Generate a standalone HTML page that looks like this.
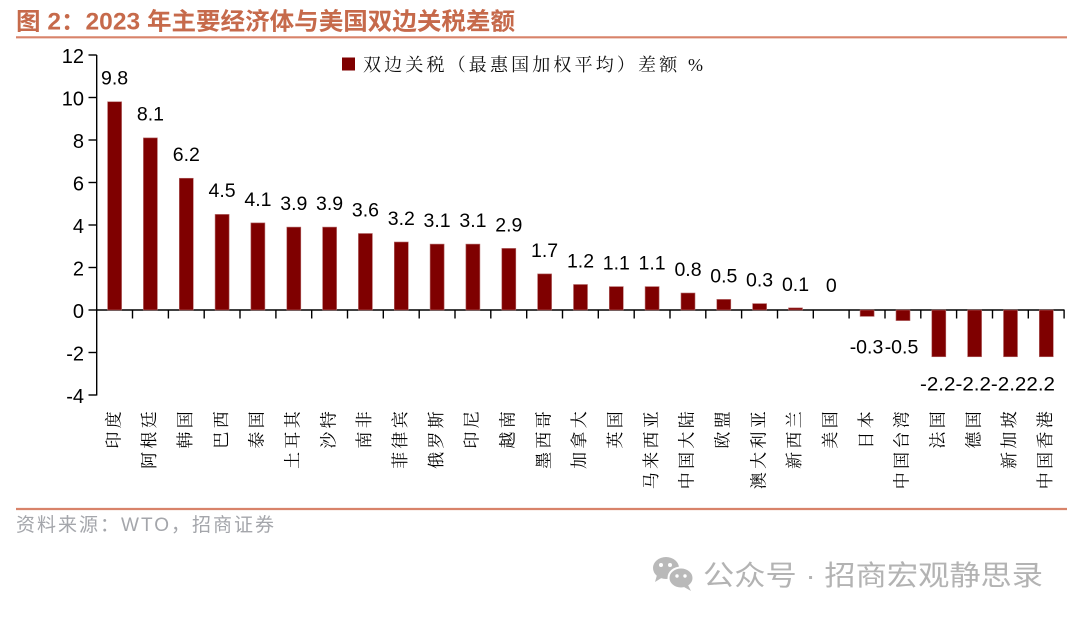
<!DOCTYPE html>
<html><head><meta charset="utf-8"><style>
html,body{margin:0;padding:0;background:#fff;}
svg{display:block;}
</style></head><body>
<svg width="1080" height="618" viewBox="0 0 1080 618" xmlns="http://www.w3.org/2000/svg">
<rect width="1080" height="618" fill="#fff"/>
<!-- title -->
<text x="16" y="29.5" font-family="Liberation Sans, Noto Sans CJK SC, sans-serif" font-weight="bold" font-size="24" fill="#c66a4b" textLength="499" lengthAdjust="spacingAndGlyphs">图 2：2023 年主要经济体与美国双边关税差额</text>
<line x1="16" y1="37.3" x2="1067" y2="37.3" stroke="#d8836a" stroke-width="2.2"/>

<!-- legend -->
<rect x="342" y="57.5" width="13" height="13" fill="#7f0000"/>
<text x="363" y="71" font-family="Liberation Serif, Noto Serif CJK SC, serif" font-size="18" fill="#111" textLength="340" lengthAdjust="spacing">双边关税（最惠国加权平均）差额 %</text>

<!-- y axis -->
<g stroke="#000" stroke-width="1.4" fill="none">
<line x1="96.7" y1="55" x2="96.7" y2="395.5"/>
<line x1="96.7" y1="310" x2="1064.5" y2="310"/>
<line x1="88.5" y1="55" x2="96.7" y2="55"/>
<line x1="88.5" y1="97.5" x2="96.7" y2="97.5"/>
<line x1="88.5" y1="140" x2="96.7" y2="140"/>
<line x1="88.5" y1="182.5" x2="96.7" y2="182.5"/>
<line x1="88.5" y1="225" x2="96.7" y2="225"/>
<line x1="88.5" y1="267.5" x2="96.7" y2="267.5"/>
<line x1="88.5" y1="310" x2="96.7" y2="310"/>
<line x1="88.5" y1="352.5" x2="96.7" y2="352.5"/>
<line x1="88.5" y1="395" x2="96.7" y2="395"/>
<!-- x ticks -->
<line x1="132.5" y1="310" x2="132.5" y2="318.5"/>
<line x1="168.4" y1="310" x2="168.4" y2="318.5"/>
<line x1="204.2" y1="310" x2="204.2" y2="318.5"/>
<line x1="240.0" y1="310" x2="240.0" y2="318.5"/>
<line x1="275.9" y1="310" x2="275.9" y2="318.5"/>
<line x1="311.7" y1="310" x2="311.7" y2="318.5"/>
<line x1="347.5" y1="310" x2="347.5" y2="318.5"/>
<line x1="383.3" y1="310" x2="383.3" y2="318.5"/>
<line x1="419.2" y1="310" x2="419.2" y2="318.5"/>
<line x1="455.0" y1="310" x2="455.0" y2="318.5"/>
<line x1="490.8" y1="310" x2="490.8" y2="318.5"/>
<line x1="526.7" y1="310" x2="526.7" y2="318.5"/>
<line x1="562.5" y1="310" x2="562.5" y2="318.5"/>
<line x1="598.3" y1="310" x2="598.3" y2="318.5"/>
<line x1="634.2" y1="310" x2="634.2" y2="318.5"/>
<line x1="670.0" y1="310" x2="670.0" y2="318.5"/>
<line x1="705.8" y1="310" x2="705.8" y2="318.5"/>
<line x1="741.6" y1="310" x2="741.6" y2="318.5"/>
<line x1="777.5" y1="310" x2="777.5" y2="318.5"/>
<line x1="813.3" y1="310" x2="813.3" y2="318.5"/>
<line x1="849.1" y1="310" x2="849.1" y2="318.5"/>
<line x1="885.0" y1="310" x2="885.0" y2="318.5"/>
<line x1="920.8" y1="310" x2="920.8" y2="318.5"/>
<line x1="956.6" y1="310" x2="956.6" y2="318.5"/>
<line x1="992.5" y1="310" x2="992.5" y2="318.5"/>
<line x1="1028.3" y1="310" x2="1028.3" y2="318.5"/>
<line x1="1064.1" y1="310" x2="1064.1" y2="318.5"/>
</g>
<g font-family="Liberation Sans, Arial, sans-serif" font-size="20" fill="#000" text-anchor="end">
<text x="84" y="63">12</text>
<text x="84" y="105.5">10</text>
<text x="84" y="148">8</text>
<text x="84" y="190.5">6</text>
<text x="84" y="233">4</text>
<text x="84" y="275.5">2</text>
<text x="84" y="318">0</text>
<text x="84" y="360.5">-2</text>
<text x="84" y="403">-4</text>
</g>

<!-- bars -->
<g fill="#7f0000" stroke="#b56a6a" stroke-width="0.6">
<rect x="107.6" y="101.75" width="14" height="208.25"/>
<rect x="143.4" y="137.9" width="14" height="172.1"/>
<rect x="179.3" y="178.25" width="14" height="131.75"/>
<rect x="215.1" y="214.4" width="14" height="95.6"/>
<rect x="250.9" y="222.9" width="14" height="87.1"/>
<rect x="286.8" y="227.1" width="14" height="82.9"/>
<rect x="322.6" y="227.1" width="14" height="82.9"/>
<rect x="358.4" y="233.5" width="14" height="76.5"/>
<rect x="394.3" y="242" width="14" height="68"/>
<rect x="430.1" y="244.1" width="14" height="65.9"/>
<rect x="465.9" y="244.1" width="14" height="65.9"/>
<rect x="501.8" y="248.4" width="14" height="61.6"/>
<rect x="537.6" y="273.9" width="14" height="36.1"/>
<rect x="573.5" y="284.5" width="14" height="25.5"/>
<rect x="609.3" y="286.6" width="14" height="23.4"/>
<rect x="645.1" y="286.6" width="14" height="23.4"/>
<rect x="681.0" y="293" width="14" height="17"/>
<rect x="716.8" y="299.4" width="14" height="10.6"/>
<rect x="752.6" y="303.6" width="14" height="6.4"/>
<rect x="788.5" y="307.9" width="14" height="2.1"/>
<rect x="860.1" y="310" width="14" height="6.4"/>
<rect x="896.0" y="310" width="14" height="10.6"/>
<rect x="931.8" y="310" width="14" height="46.75"/>
<rect x="967.6" y="310" width="14" height="46.75"/>
<rect x="1003.5" y="310" width="14" height="46.75"/>
<rect x="1039.3" y="310" width="14" height="46.75"/>
</g>

<!-- data labels -->
<g font-family="Liberation Sans, Arial, sans-serif" font-size="19.5" fill="#000" text-anchor="middle">
<text x="114.6" y="84.5">9.8</text>
<text x="150.4" y="120.5">8.1</text>
<text x="186.3" y="161">6.2</text>
<text x="222.1" y="197">4.5</text>
<text x="257.9" y="206">4.1</text>
<text x="293.8" y="210">3.9</text>
<text x="329.6" y="210">3.9</text>
<text x="365.4" y="216.5">3.6</text>
<text x="401.3" y="225">3.2</text>
<text x="437.1" y="227">3.1</text>
<text x="472.9" y="227">3.1</text>
<text x="508.8" y="231.5">2.9</text>
<text x="544.6" y="257">1.7</text>
<text x="580.5" y="267.5">1.2</text>
<text x="616.3" y="269.5">1.1</text>
<text x="652.1" y="269.5">1.1</text>
<text x="688.0" y="276">0.8</text>
<text x="723.8" y="282.5">0.5</text>
<text x="759.6" y="286.5">0.3</text>
<text x="795.5" y="291">0.1</text>
<text x="831.3" y="292">0</text>
<text x="866.5" y="353.3">-0.3</text>
<text x="901.5" y="353.3">-0.5</text>
</g>
<text x="920" y="390.7" font-family="Liberation Sans, Arial, sans-serif" font-size="19.5" fill="#000" textLength="135" lengthAdjust="spacingAndGlyphs">-2.2-2.2-2.22.2</text>

<!-- category labels (rotated) -->
<g font-family="Liberation Serif, Noto Serif CJK SC, serif" font-size="17" fill="#000" text-anchor="end" dominant-baseline="central" letter-spacing="3.3">
<text transform="translate(113.8,408) rotate(-90)">印度</text>
<text transform="translate(149.6,408) rotate(-90)">阿根廷</text>
<text transform="translate(185.5,408) rotate(-90)">韩国</text>
<text transform="translate(221.3,408) rotate(-90)">巴西</text>
<text transform="translate(257.1,408) rotate(-90)">泰国</text>
<text transform="translate(293.0,408) rotate(-90)">土耳其</text>
<text transform="translate(328.8,408) rotate(-90)">沙特</text>
<text transform="translate(364.6,408) rotate(-90)">南非</text>
<text transform="translate(400.5,408) rotate(-90)">菲律宾</text>
<text transform="translate(436.3,408) rotate(-90)">俄罗斯</text>
<text transform="translate(472.1,408) rotate(-90)">印尼</text>
<text transform="translate(508.0,408) rotate(-90)">越南</text>
<text transform="translate(543.8,408) rotate(-90)">墨西哥</text>
<text transform="translate(579.7,408) rotate(-90)">加拿大</text>
<text transform="translate(615.5,408) rotate(-90)">英国</text>
<text transform="translate(651.3,408) rotate(-90)">马来西亚</text>
<text transform="translate(687.2,408) rotate(-90)">中国大陆</text>
<text transform="translate(723.0,408) rotate(-90)">欧盟</text>
<text transform="translate(758.8,408) rotate(-90)">澳大利亚</text>
<text transform="translate(794.7,408) rotate(-90)">新西兰</text>
<text transform="translate(830.5,408) rotate(-90)">美国</text>
<text transform="translate(866.3,408) rotate(-90)">日本</text>
<text transform="translate(902.2,408) rotate(-90)">中国台湾</text>
<text transform="translate(938.0,408) rotate(-90)">法国</text>
<text transform="translate(973.8,408) rotate(-90)">德国</text>
<text transform="translate(1009.7,408) rotate(-90)">新加坡</text>
<text transform="translate(1045.5,408) rotate(-90)">中国香港</text>
</g>

<!-- bottom separator + source -->
<line x1="16" y1="509" x2="1067" y2="509" stroke="#d8836a" stroke-width="2.2"/>
<text x="16" y="531" font-family="Liberation Sans, Noto Sans CJK SC, sans-serif" font-size="19" fill="#a4a6ab" textLength="258" lengthAdjust="spacing">资料来源：WTO，招商证券</text>

<!-- watermark -->
<g fill="#b9b9b9">
<ellipse cx="666" cy="568" rx="13" ry="11"/>
<path d="M657 575 L655 582 L663 577 Z"/>
<ellipse cx="681" cy="578" rx="12.5" ry="10.5" stroke="#fff" stroke-width="2"/>
<path d="M688 585 L691 591 L684 587 Z"/>
</g>
<g fill="#fff">
<circle cx="661" cy="565" r="2"/>
<circle cx="670" cy="565" r="2"/>
<circle cx="677" cy="576" r="1.7"/>
<circle cx="685" cy="576" r="1.7"/>
</g>
<text x="703" y="585" font-family="Liberation Sans, Noto Sans CJK SC, sans-serif" font-size="28" fill="#b3b3b3" textLength="340" lengthAdjust="spacingAndGlyphs">公众号 · 招商宏观静思录</text>
</svg>
</body></html>
